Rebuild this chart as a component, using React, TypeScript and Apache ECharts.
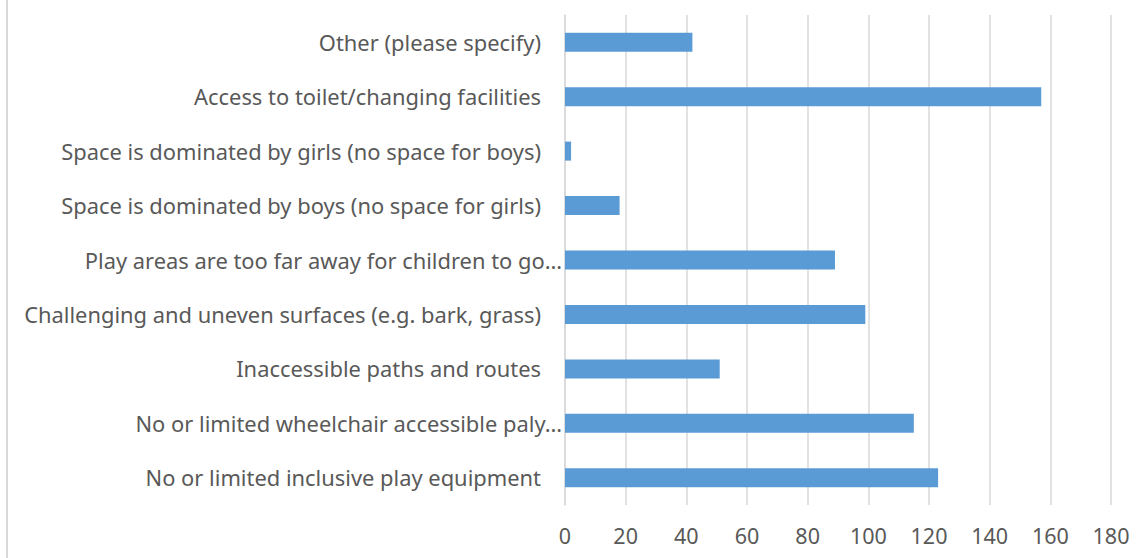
import React, { useEffect, useRef } from "react";
import * as echarts from "echarts";

const categories = [
  "No or limited inclusive play equipment",
  "No or limited wheelchair accessible paly…",
  "Inaccessible paths and routes",
  "Challenging and uneven surfaces (e.g. bark, grass)",
  "Play areas are too far away for children to go…",
  "Space is dominated by boys (no space for girls)",
  "Space is dominated by girls (no space for boys)",
  "Access to toilet/changing facilities",
  "Other (please specify)",
];
const values = [123, 115, 51, 99, 89, 18, 2, 157, 42];
const xTicks = { min: 0, max: 180, interval: 20 };

export default function App() {
  const ref = useRef<HTMLDivElement>(null);
  useEffect(() => {
    if (!ref.current) return;
    const chart = echarts.init(ref.current, null, { renderer: "svg" });
    const font = "Noto Sans";
    chart.setOption({
      animation: false,
      backgroundColor: "#ffffff",
      grid: { left: 565, right: 37, top: 15, bottom: 53, containLabel: false },
      xAxis: {
        type: "value",
        min: xTicks.min,
        max: xTicks.max,
        interval: xTicks.interval,
        axisLine: { show: false },
        axisTick: { show: false },
        splitLine: { show: true, lineStyle: { color: "#d9d9d9", width: 1.5 } },
        axisLabel: { color: "#595959", fontSize: 21.5, fontFamily: font, margin: 19 },
      },
      yAxis: {
        type: "category",
        data: categories,
        axisLine: { show: true, lineStyle: { color: "#d9d9d9", width: 1.5 } },
        axisTick: { show: false },
        axisLabel: {
          color: "#595959",
          fontSize: 21.9,
          fontFamily: font,
          margin: 3,
          interval: 0,
          formatter: (v: string) => (v.endsWith("…") ? `{t|${v}}` : `{t|${v}}{s| }`),
          rich: {
            t: { color: "#595959", fontSize: 21.9, fontFamily: font },
            s: { width: 21, fontSize: 21.9, fontFamily: font },
          },
        },
      },
      series: [
        {
          type: "bar",
          data: values,
          barWidth: 19,
          itemStyle: { color: "#5b9bd5" },
        },
      ],
      graphic: [
        {
          type: "line",
          shape: { x1: 7, y1: 0, x2: 7, y2: 558 },
          style: { stroke: "#d9d9d9", lineWidth: 2 },
        },
      ],
    });
    return () => chart.dispose();
  }, []);
  return <div ref={ref} style={{ position: "fixed", left: 0, top: 0, width: 1148, height: 558 }} />;
}
